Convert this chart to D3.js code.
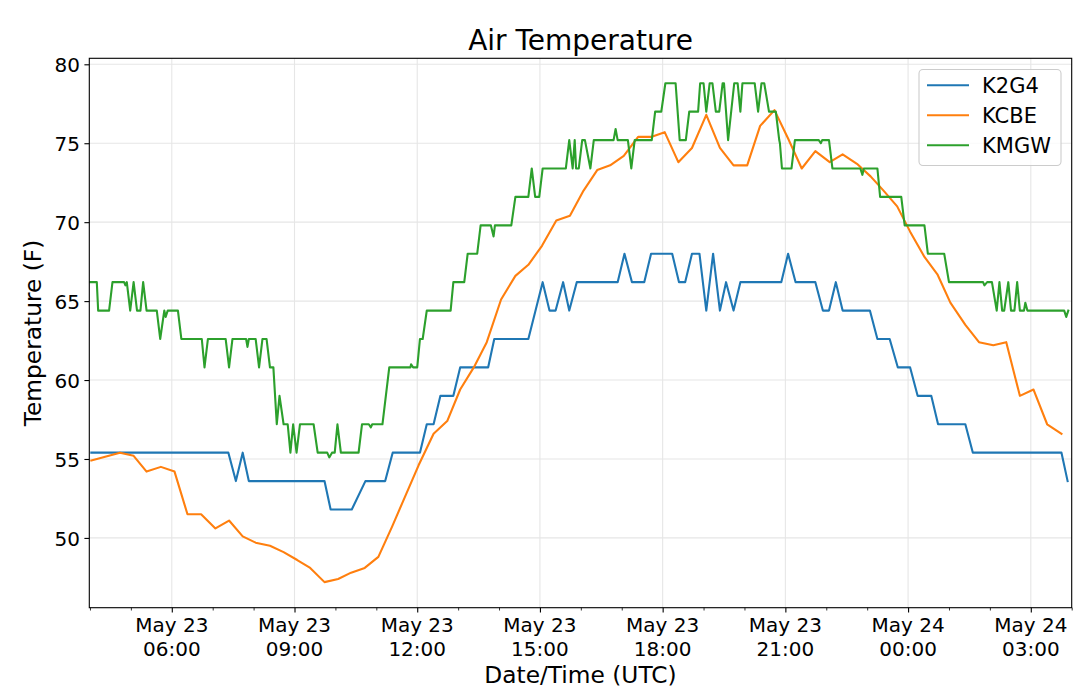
<!DOCTYPE html>
<html><head><meta charset="utf-8">
<script src="https://cdn.jsdelivr.net/npm/d3@7"></script>
<style>body{margin:0;background:#fff} text{font-family:"DejaVu Sans",sans-serif;fill:#000}</style>
</head><body><svg id="c" width="1080" height="700"></svg>
<script>
// ---------------- DATA ----------------
const seriesNames = ["K2G4", "KCBE", "KMGW"];
const seriesColors = ["#1f77b4", "#ff7f0e", "#2ca02c"];

const k2g4Times = ["23 04:02","23 07:23","23 07:34","23 07:44","23 07:53","23 09:44","23 09:53","23 10:24","23 10:44","23 11:13",
 "23 11:24","23 12:04","23 12:14","23 12:24","23 12:34","23 12:53","23 13:03","23 13:44","23 13:53","23 14:43",
 "23 15:04","23 15:14","23 15:23","23 15:34","23 15:43","23 15:54","23 16:54","23 17:04","23 17:15","23 17:33",
 "23 17:43","23 18:14","23 18:24","23 18:33","23 18:43","23 18:54","23 19:04","23 19:14","23 19:24","23 19:33",
 "23 19:44","23 19:54","23 20:54","23 21:04","23 21:15","23 21:44","23 21:55","23 22:04","23 22:14","23 22:24",
 "23 23:04","23 23:15","23 23:33","23 23:45","24 00:03","24 00:14","24 00:34","24 00:44","24 01:24","24 01:35",
 "24 03:45","24 03:54"];
const k2g4Values = [55.4,55.4,53.6,55.4,53.6,53.6,51.8,51.8,53.6,53.6,
 55.4,55.4,57.2,57.2,59.0,59.0,60.8,60.8,62.6,62.6,
 66.2,64.4,64.4,66.2,64.4,66.2,66.2,68.0,66.2,66.2,
 68.0,68.0,66.2,66.2,68.0,68.0,64.4,68.0,64.4,66.2,
 64.4,66.2,66.2,68.0,66.2,66.2,64.4,64.4,66.2,64.4,
 64.4,62.6,62.6,60.8,60.8,59.0,59.0,57.2,57.2,55.4,
 55.4,53.6];

const kcbeTimes = ["23 04:02","23 04:44","23 05:04","23 05:23","23 05:44","23 06:04","23 06:23","23 06:43","23 07:04","23 07:24",
 "23 07:44","23 08:03","23 08:24","23 08:44","23 09:04","23 09:23","23 09:44","23 10:04","23 10:23","23 10:43",
 "23 11:03","23 11:23","23 11:42","23 12:02","23 12:24","23 12:44","23 13:03","23 13:23","23 13:42","23 14:03",
 "23 14:24","23 14:43","23 15:03","23 15:24","23 15:44","23 16:04","23 16:24","23 16:43","23 17:03","23 17:24",
 "23 17:43","23 18:03","23 18:23","23 18:43","23 19:04","23 19:24","23 19:44","23 20:04","23 20:23","23 20:44",
 "23 21:04","23 21:24","23 21:44","23 22:05","23 22:24","23 22:45","23 23:05","23 23:24","23 23:44","24 00:03",
 "24 00:24","24 00:43","24 01:02","24 01:24","24 01:44","24 02:05","24 02:24","24 02:44","24 03:04","24 03:24",
 "24 03:45"];
const kcbeValues = [54.9,55.4,55.2,54.2,54.5,54.2,51.5,51.5,50.6,51.1,
 50.1,49.7,49.5,49.1,48.6,48.1,47.2,47.4,47.8,48.1,
 48.8,50.7,52.6,54.6,56.6,57.4,59.4,60.8,62.4,65.1,
 66.6,67.3,68.5,70.1,70.4,72.0,73.3,73.6,74.2,75.4,
 75.4,75.7,73.8,74.7,76.8,74.7,73.6,73.6,76.1,77.1,
 75.3,73.4,74.5,73.8,74.3,73.7,72.9,72.0,71.0,69.4,
 67.8,66.7,64.9,63.5,62.4,62.2,62.4,59.0,59.4,57.2,
 56.6];

const kmgwTimes = ["23 04:00","23 04:10","23 04:12","23 04:28","23 04:33","23 04:50","23 04:52","23 04:54","23 04:59","23 05:04",
 "23 05:09","23 05:14","23 05:18","23 05:23","23 05:38","23 05:43","23 05:49","23 05:51","23 05:54","23 06:09",
 "23 06:14","23 06:44","23 06:48","23 06:53","23 07:19","23 07:24","23 07:29","23 07:49","23 07:51","23 07:53",
 "23 08:03","23 08:08","23 08:13","23 08:19","23 08:24","23 08:29","23 08:34","23 08:38","23 08:44","23 08:50",
 "23 08:54","23 08:58","23 09:03","23 09:08","23 09:28","23 09:34","23 09:48","23 09:51","23 09:55","23 09:59",
 "23 10:03","23 10:08","23 10:34","23 10:39","23 10:49","23 10:52","23 10:54","23 11:09","23 11:19","23 11:50",
 "23 11:51","23 11:54","23 12:00","23 12:04","23 12:08","23 12:14","23 12:49","23 12:53","23 13:09","23 13:14",
 "23 13:28","23 13:33","23 13:48","23 13:52","23 13:54","23 14:18","23 14:24","23 14:43","23 14:48","23 14:53",
 "23 14:59","23 15:04","23 15:38","23 15:43","23 15:48","23 15:51","23 15:53","23 15:57","23 16:02","23 16:06",
 "23 16:14","23 16:19","23 16:48","23 16:51","23 16:54","23 17:09","23 17:14","23 17:19","23 17:44","23 17:49",
 "23 17:58","23 18:04","23 18:19","23 18:25","23 18:34","23 18:39","23 18:52","23 18:55","23 19:00","23 19:04",
 "23 19:09","23 19:13","23 19:18","23 19:23","23 19:28","23 19:30","23 19:36","23 19:45","23 19:50","23 19:54",
 "23 19:57","23 20:15","23 20:20","23 20:25","23 20:29","23 20:36","23 20:46","23 20:51","23 20:52","23 20:55",
 "23 21:09","23 21:14","23 21:49","23 21:52","23 21:54","23 22:04","23 22:09","23 22:50","23 22:53","23 22:55",
 "23 23:15","23 23:19","23 23:50","23 23:55","24 00:24","24 00:29","24 00:53","24 01:00","24 01:50","24 01:52",
 "24 01:56","24 02:03","24 02:10","24 02:14","24 02:18","24 02:21","24 02:27","24 02:31","24 02:36","24 02:40",
 "24 02:44","24 02:50","24 02:52","24 02:55","24 03:49","24 03:52","24 03:55"];
const kmgwValues = [66.2,66.2,64.4,64.4,66.2,66.2,66.0,66.2,64.4,66.2,
 64.4,64.4,66.2,64.4,64.4,62.6,64.4,64.0,64.4,64.4,
 62.6,62.6,60.8,62.6,62.6,60.8,62.6,62.6,62.1,62.6,
 62.6,60.8,62.6,62.6,60.8,60.8,57.2,59.0,57.2,57.2,
 55.4,57.2,55.4,57.2,57.2,55.4,55.4,55.1,55.4,55.4,
 57.2,55.4,55.4,57.2,57.2,57.0,57.2,57.2,60.8,60.8,
 61.0,60.8,60.8,62.6,62.6,64.4,64.4,66.2,66.2,68.0,
 68.0,69.8,69.8,69.1,69.8,69.8,71.6,71.6,73.4,71.6,
 71.6,73.4,73.4,75.2,73.4,75.2,73.4,73.4,75.2,75.2,
 73.4,75.2,75.2,75.9,75.2,75.2,73.4,75.2,75.2,77.0,
 77.0,78.8,78.8,75.2,75.2,77.0,77.0,78.8,78.8,77.0,
 78.8,78.8,77.0,77.0,78.8,78.8,75.2,78.8,78.8,77.0,
 78.8,78.8,77.0,78.8,78.8,77.0,77.0,75.2,75.0,73.4,
 73.4,75.2,75.2,75.0,75.2,75.2,73.4,73.4,73.0,73.4,
 73.4,71.6,71.6,69.8,69.8,68.0,68.0,66.2,66.2,66.0,
 66.2,66.2,64.4,66.2,64.4,64.4,66.2,64.4,64.4,66.2,
 64.4,64.4,64.9,64.4,64.4,64.0,64.4];

const xDomain = ["23 03:59", "24 04:00"];
const yDomain = [45.58, 80.38];
const yTicks = [50, 55, 60, 65, 70, 75, 80];
const titleText = "Air Temperature";
const xLabel = "Date/Time (UTC)";
const yLabel = "Temperature (F)";

// ---------------- CHART ----------------
const W = 1080, H = 700;
const m = {left: 89.3, top: 58.3, right: 8.3, bottom: 92.3};
const iw = W - m.left - m.right, ih = H - m.top - m.bottom;
const parse = d3.utcParse("%Y-%m-%d %H:%M");
const t = s => parse("2019-05-" + s);

const svg = d3.select("#c");
const x = d3.scaleUtc().domain(xDomain.map(t)).range([m.left, m.left + iw]);
const y = d3.scaleLinear().domain(yDomain).range([m.top + ih, m.top]);

const majorTicks = x.ticks(d3.utcHour.every(3));
const minorTicks = x.ticks(d3.utcHour.every(1)).filter(d => d.getUTCHours() % 3 !== 0);

// grid
const grid = svg.append("g").attr("stroke", "#e6e6e6").attr("stroke-width", 1.1);
grid.selectAll(".gx").data(majorTicks).join("line")
  .attr("x1", d => x(d)).attr("x2", d => x(d)).attr("y1", m.top).attr("y2", m.top + ih);
grid.selectAll(".gy").data(yTicks).join("line")
  .attr("x1", m.left).attr("x2", m.left + iw).attr("y1", d => y(d)).attr("y2", d => y(d));

// lines
const series = [
  {name: seriesNames[0], color: seriesColors[0], times: k2g4Times, values: k2g4Values},
  {name: seriesNames[1], color: seriesColors[1], times: kcbeTimes, values: kcbeValues},
  {name: seriesNames[2], color: seriesColors[2], times: kmgwTimes, values: kmgwValues}
];
const line = d3.line().x(d => x(d[0])).y(d => y(d[1]));
const clip = svg.append("clipPath").attr("id", "clip").append("rect")
  .attr("x", m.left).attr("y", m.top).attr("width", iw).attr("height", ih);
svg.append("g").attr("clip-path", "url(#clip)").selectAll("path").data(series).join("path")
  .attr("fill", "none").attr("stroke", d => d.color).attr("stroke-width", 2.1)
  .attr("stroke-linejoin", "round").attr("stroke-linecap", "square")
  .attr("d", d => line(d.times.map((s, i) => [t(s), d.values[i]])));

// axes
const xAxis = svg.append("g").attr("transform", `translate(0,${m.top + ih})`)
  .call(d3.axisBottom(x).tickValues(majorTicks).tickSize(4.9).tickSizeOuter(0).tickFormat(""));
xAxis.select(".domain").remove();
xAxis.selectAll(".tick line").attr("stroke", "#000").attr("stroke-width", 1.1);
const xMinor = svg.append("g").attr("transform", `translate(0,${m.top + ih})`)
  .call(d3.axisBottom(x).tickValues(minorTicks).tickSize(2.8).tickSizeOuter(0).tickFormat(""));
xMinor.select(".domain").remove();
xMinor.selectAll(".tick line").attr("stroke", "#000").attr("stroke-width", 0.8);

const fDay = d3.utcFormat("%b %d"), fTime = d3.utcFormat("%H:%M");
const xl = svg.append("g").selectAll("text").data(majorTicks).join("text")
  .attr("text-anchor", "middle").attr("font-size", 20);
xl.append("tspan").attr("x", d => x(d)).attr("y", 632).text(d => fDay(d));
xl.append("tspan").attr("x", d => x(d)).attr("y", 655.5).text(d => fTime(d));

const yAxis = svg.append("g").attr("transform", `translate(${m.left},0)`)
  .call(d3.axisLeft(y).tickValues(yTicks).tickSize(4.9).tickPadding(4.5).tickFormat(d3.format("d")));
yAxis.select(".domain").remove();
yAxis.selectAll(".tick line").attr("stroke", "#000").attr("stroke-width", 1.1);
yAxis.selectAll(".tick text").attr("font-size", 20).attr("fill", "#000")
  .attr("font-family", "DejaVu Sans").attr("dy", "0.36em");

// frame
svg.append("rect").attr("x", m.left).attr("y", m.top).attr("width", iw).attr("height", ih)
  .attr("fill", "none").attr("stroke", "#000").attr("stroke-width", 1.1);

// titles
svg.append("text").attr("x", m.left + iw / 2).attr("y", 50).attr("text-anchor", "middle")
  .attr("font-size", 28).text(titleText);
svg.append("text").attr("x", m.left + iw / 2).attr("y", 683).attr("text-anchor", "middle")
  .attr("font-size", 23.3).text(xLabel);
svg.append("text").attr("transform", `translate(41,${m.top + ih / 2}) rotate(-90)`)
  .attr("text-anchor", "middle").attr("font-size", 23.3).text(yLabel);

// legend
const lg = svg.append("g");
lg.append("rect").attr("x", 919).attr("y", 69.5).attr("width", 142).attr("height", 96)
  .attr("rx", 4).attr("fill", "#fff").attr("fill-opacity", 0.8)
  .attr("stroke", "#cccccc").attr("stroke-width", 1.1);
const li = lg.selectAll(".li").data(series).join("g")
  .attr("transform", (d, i) => `translate(0,${85.3 + i * 30})`);
li.append("line").attr("x1", 927).attr("x2", 969).attr("stroke", d => d.color).attr("stroke-width", 2.1);
li.append("text").attr("x", 982).attr("dy", "0.36em").attr("font-size", 21).text(d => d.name);
</script></body></html>
